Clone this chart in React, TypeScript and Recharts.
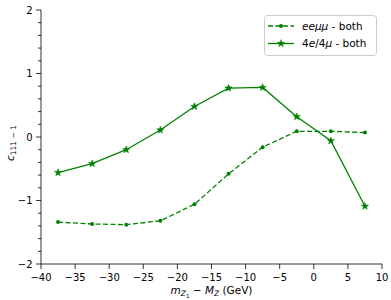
import React from 'react';
import { LineChart, Line, XAxis, YAxis } from 'recharts';

const xValues = [-37.5, -32.5, -27.5, -22.5, -17.5, -12.5, -7.5, -2.5, 2.5, 7.5];
const eemumuValues = [-1.34, -1.37, -1.38, -1.32, -1.06, -0.58, -0.16, 0.09, 0.09, 0.07];
const fourLepValues = [-0.56, -0.42, -0.2, 0.11, 0.48, 0.77, 0.78, 0.32, -0.06, -1.09];
const xTicks = [-40, -35, -30, -25, -20, -15, -10, -5, 0, 5, 10];
const yTicks = [-2, -1.8, -1.6, -1.4, -1.2, -1, -0.8, -0.6, -0.4, -0.2, 0, 0.2, 0.4, 0.6, 0.8, 1, 1.2, 1.4, 1.6, 1.8, 2];
const seriesNames = ['eeμμ', '4e/4μ'];

const data = xValues.map((x, i) => ({ x, ee: eemumuValues[i], fl: fourLepValues[i] }));

const FONT = 'DejaVu Sans';
const GREEN = '#008000';
const fmt = (v: number) => (v < 0 ? '\u2212' + Math.abs(v) : String(v));

const YTick = (props: any) => {
  const { x, y, payload } = props;
  const v = payload.value;
  const major = Math.abs(v - Math.round(v)) < 1e-6;
  return (
    <g>
      <line x1={x - (major ? 5 : 3)} x2={x} y1={y} y2={y} stroke="#000" strokeWidth={0.8} />
      {major && (
        <text x={x - 8.5} y={y + 3.6} textAnchor="end" fontFamily={FONT} fontSize={10} fill="#000">
          {fmt(v)}
        </text>
      )}
    </g>
  );
};

const XTick = (props: any) => {
  const { x, y, payload } = props;
  return (
    <g>
      <line x1={x} x2={x} y1={y} y2={y + 5} stroke="#000" strokeWidth={0.8} />
      <text x={x} y={y + 17} textAnchor="middle" fontFamily={FONT} fontSize={10} fill="#000">
        {fmt(payload.value)}
      </text>
    </g>
  );
};

const starPts = (cx: number, cy: number, R: number, r: number) => {
  const pts: string[] = [];
  for (let k = 0; k < 10; k++) {
    const a = -Math.PI / 2 + (k * Math.PI) / 5;
    const rad = k % 2 === 0 ? R : r;
    pts.push(`${cx + rad * Math.cos(a)},${cy + rad * Math.sin(a)}`);
  }
  return pts.join(' ');
};

const DotMarker = (props: any) => {
  const { cx, cy, index } = props;
  return <circle key={'d' + index} cx={cx} cy={cy} r={2} fill={GREEN} stroke="none" />;
};
const StarMarker = (props: any) => {
  const { cx, cy, index } = props;
  return <polygon key={'s' + index} points={starPts(cx, cy, 3.8, 1.6)} fill={GREEN} stroke={GREEN} strokeWidth={0.5} />;
};

export default function App() {
  return (
    <div style={{ position: 'absolute', left: 0, top: 0, width: 391, height: 300, background: '#fff' }}>
      <LineChart width={391} height={300} data={data} margin={{ top: 10, right: 9, bottom: 0, left: 0 }}>
        <XAxis
          dataKey="x"
          type="number"
          domain={[-40, 10]}
          ticks={xTicks}
          interval={0}
          height={36}
          tickSize={0}
          tickMargin={0}
          tickLine={false}
          tick={<XTick />}
          stroke="#000"
          strokeWidth={0.8}
          allowDataOverflow
        />
        <XAxis xAxisId="top" orientation="top" type="number" domain={[-40, 10]} height={0} tick={false} tickLine={false} stroke="#000" strokeWidth={0.8} />
        <YAxis
          type="number"
          domain={[-2, 2]}
          ticks={yTicks}
          interval={0}
          width={41}
          tickSize={0}
          tickMargin={0}
          tickLine={false}
          tick={<YTick />}
          stroke="#000"
          strokeWidth={0.8}
          allowDataOverflow
        />
        <YAxis yAxisId="right" orientation="right" type="number" domain={[-2, 2]} width={0} tick={false} tickLine={false} stroke="#000" strokeWidth={0.8} />
        <Line
          dataKey="ee"
          name={seriesNames[0]}
          stroke={GREEN}
          strokeWidth={1.3}
          strokeDasharray="5 2.5"
          dot={(p: any) => <DotMarker {...p} />}
          activeDot={false}
          isAnimationActive={false}
        />
        <Line
          dataKey="fl"
          name={seriesNames[1]}
          stroke={GREEN}
          strokeWidth={1.3}
          dot={(p: any) => <StarMarker {...p} />}
          activeDot={false}
          isAnimationActive={false}
        />
      </LineChart>
      <svg width={391} height={300} style={{ position: 'absolute', left: 0, top: 0, pointerEvents: 'none' }}>
        {/* x label */}
        <text x={211.5} y={294} textAnchor="middle" fontFamily={FONT} fontSize={10.5} fill="#000">
          <tspan fontStyle="italic">m</tspan>
          <tspan fontStyle="italic" fontSize={7.5} dy={2}>Z</tspan>
          <tspan fontSize={5.5} dy={1.5}>1</tspan>
          <tspan dy={-3.5}>{' \u2212 '}</tspan>
          <tspan fontStyle="italic">M</tspan>
          <tspan fontStyle="italic" fontSize={7.5} dy={2}>Z</tspan>
          <tspan dy={-2}>{' (GeV)'}</tspan>
        </text>
        {/* y label */}
        <text transform="translate(14,143) rotate(-90)" textAnchor="middle" fontFamily={FONT} fontSize={10.5} fill="#000">
          <tspan fontStyle="italic">c</tspan>
          <tspan fontSize={7.5} dy={2}>{'111 \u2212 1'}</tspan>
        </text>
        {/* legend */}
        <rect x={264.5} y={15.5} width={112} height={40} rx={3} fill="#fff" fillOpacity={0.8} stroke="#ccc" strokeWidth={1} />
        <line x1={268} x2={294} y1={26} y2={26} stroke={GREEN} strokeWidth={1.3} strokeDasharray="5 2.5" />
        <circle cx={281} cy={26} r={2} fill={GREEN} />
        <text x={302} y={29.6} fontFamily={FONT} fontSize={10.5} fill="#000">
          <tspan fontStyle="italic">eeμμ</tspan>
          <tspan>{' - both'}</tspan>
        </text>
        <line x1={268} x2={294} y1={43.5} y2={43.5} stroke={GREEN} strokeWidth={1.3} />
        <polygon points={starPts(281, 43.5, 3.8, 1.6)} fill={GREEN} stroke={GREEN} strokeWidth={0.5} />
        <text x={302} y={47.1} fontFamily={FONT} fontSize={10.5} fill="#000">
          <tspan>4</tspan>
          <tspan fontStyle="italic">e</tspan>
          <tspan>/4</tspan>
          <tspan fontStyle="italic">μ</tspan>
          <tspan>{' - both'}</tspan>
        </text>
      </svg>
    </div>
  );
}
